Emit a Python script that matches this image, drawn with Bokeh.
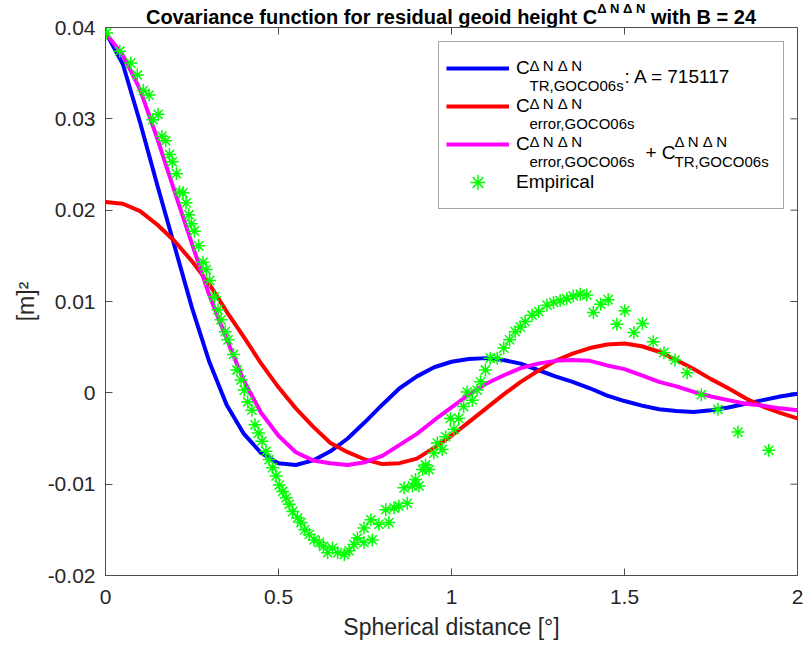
from bokeh.plotting import figure
from bokeh.layouts import column
from bokeh.models import Range1d, FixedTicker, Label, Legend, LegendItem, Div
from bokeh.embed import file_html
from bokeh.resources import INLINE

# ---------------- data ----------------
dist = [0.00, 0.05, 0.10, 0.15, 0.20, 0.25, 0.30, 0.35, 0.40, 0.45,
        0.50, 0.55, 0.60, 0.65, 0.70, 0.75, 0.80, 0.85, 0.90, 0.95,
        1.00, 1.05, 1.10, 1.15, 1.20, 1.25, 1.30, 1.35, 1.40, 1.45,
        1.50, 1.55, 1.60, 1.65, 1.70, 1.75, 1.80, 1.85, 1.90, 1.95, 2.00]

cov_tr = [0.0395, 0.0360, 0.0296, 0.0227, 0.0160, 0.0093, 0.0034, -0.0013, -0.0045, -0.0066,
          -0.0077, -0.0079, -0.0074, -0.0064, -0.0050, -0.0032, -0.0013, 0.0005, 0.0018, 0.0028,
          0.0034, 0.0037, 0.0038, 0.0036, 0.0032, 0.0025, 0.0018, 0.0012, 0.0005, -0.0003,
          -0.0009, -0.0014, -0.0018, -0.0020, -0.0021, -0.0019, -0.0016, -0.0012, -0.0008, -0.0004, -0.0001]

cov_err = [0.0209, 0.0207, 0.0199, 0.0184, 0.0166, 0.0144, 0.0119, 0.0089, 0.0061, 0.0032,
           0.0006, -0.0017, -0.0037, -0.0055, -0.0065, -0.0073, -0.0078, -0.0077, -0.0072, -0.0060,
           -0.0047, -0.0032, -0.0017, -0.0002, 0.0012, 0.0024, 0.0035, 0.0043, 0.0049, 0.0053,
           0.0054, 0.0051, 0.0045, 0.0036, 0.0026, 0.0015, 0.0005, -0.0006, -0.0015, -0.0022, -0.0028]

cov_sum = [0.0394, 0.0370, 0.0332, 0.0278, 0.0220, 0.0163, 0.0107, 0.0059, 0.0013, -0.0022,
           -0.0047, -0.0065, -0.0074, -0.0077, -0.0079, -0.0076, -0.0069, -0.0057, -0.0045, -0.0030,
           -0.0016, -0.0002, 0.0010, 0.0019, 0.0027, 0.0032, 0.0035, 0.0036, 0.0035, 0.0030,
           0.0026, 0.0019, 0.0012, 0.0007, 0.0001, -0.0004, -0.0008, -0.0012, -0.0014, -0.0017, -0.0019]

emp_dist = [0.003, 0.041, 0.073, 0.092, 0.109, 0.126, 0.137, 0.152, 0.163, 0.174,
            0.185, 0.193, 0.205, 0.214, 0.224, 0.233, 0.241, 0.248, 0.257, 0.269,
            0.282, 0.291, 0.301, 0.315, 0.325, 0.334, 0.346, 0.354, 0.370, 0.380,
            0.392, 0.401, 0.411, 0.423, 0.432, 0.442, 0.452, 0.464, 0.473, 0.483,
            0.493, 0.502, 0.512, 0.522, 0.531, 0.541, 0.555, 0.565, 0.576, 0.589,
            0.603, 0.618, 0.630, 0.642, 0.656, 0.671, 0.690, 0.704, 0.718, 0.728,
            0.747, 0.747, 0.767, 0.771, 0.790, 0.810, 0.819, 0.834, 0.848, 0.863,
            0.872, 0.887, 0.896, 0.906, 0.916, 0.925, 0.935, 0.949, 0.959, 0.973,
            0.983, 0.997, 1.007, 1.021, 1.035, 1.045, 1.060, 1.074, 1.084, 1.098,
            1.112, 1.132, 1.151, 1.168, 1.184, 1.199, 1.213, 1.233, 1.252, 1.276,
            1.295, 1.314, 1.333, 1.352, 1.372, 1.391, 1.410, 1.431, 1.453, 1.478,
            1.501, 1.527, 1.552, 1.583, 1.614, 1.646, 1.681, 1.722, 1.770, 1.828, 1.917]

emp_cov = [0.0394, 0.0374, 0.0361, 0.0348, 0.0331, 0.0326, 0.0299, 0.0305, 0.0281, 0.0276,
           0.0261, 0.0253, 0.0240, 0.0220, 0.0219, 0.0208, 0.0195, 0.0185, 0.0177, 0.0161,
           0.0143, 0.0135, 0.0123, 0.0105, 0.0091, 0.0080, 0.0067, 0.0058, 0.0042, 0.0025,
           0.0014, 0.0003, -0.0010, -0.0019, -0.0035, -0.0044, -0.0053, -0.0064, -0.0073, -0.0082,
           -0.0091, -0.0101, -0.0108, -0.0115, -0.0122, -0.0130, -0.0137, -0.0142, -0.0150, -0.0155,
           -0.0161, -0.0164, -0.0168, -0.0175, -0.0170, -0.0175, -0.0177, -0.0173, -0.0166, -0.0159,
           -0.0164, -0.0148, -0.0139, -0.0161, -0.0144, -0.0128, -0.0142, -0.0126, -0.0124, -0.0104,
           -0.0121, -0.0102, -0.0095, -0.0102, -0.0084, -0.0079, -0.0084, -0.0066, -0.0055, -0.0062,
           -0.0048, -0.0028, -0.0040, -0.0028, -0.0015, 0.0001, -0.0008, 0.0003, 0.0012, 0.0025,
           0.0038, 0.0038, 0.0049, 0.0058, 0.0067, 0.0072, 0.0078, 0.0085, 0.0089, 0.0096,
           0.0099, 0.0101, 0.0103, 0.0106, 0.0108, 0.0107, 0.0088, 0.0097, 0.0102, 0.0075,
           0.0090, 0.0066, 0.0076, 0.0056, 0.0044, 0.0036, 0.0022, -0.0002, -0.0018, -0.0043, -0.0063]

x_ticks = [0, 0.5, 1, 1.5, 2]
x_tick_labels = ["0", "0.5", "1", "1.5", "2"]
y_ticks = [-0.02, -0.01, 0, 0.01, 0.02, 0.03, 0.04]
y_tick_labels = ["-0.02", "-0.01", "0", "0.01", "0.02", "0.03", "0.04"]

# ---------------- layout ----------------
W, H = 804, 648
TITLE_H = 27                      # page rows above the plot frame
FL, FR, FT, FB = 105, 797, 27, 575  # frame edges in page pixels
X0, X1, Y0, Y1 = 0.0, 2.0, -0.02, 0.04
TICK = 7
FONT = "Liberation Sans"
SPINE = "#4d4d4d"
TXT = "#262626"


def px_x(px):
    return X0 + (px - FL) / (FR - FL) * (X1 - X0)


def px_y(py):
    return Y1 - (py - FT) / (FB - FT) * (Y1 - Y0)


title_html = (
    f'<div style="position:absolute;left:{(FL + FR) / 2}px;top:7px;transform:translateX(-50%);'
    f"white-space:nowrap;font-family:'{FONT}';font-weight:bold;font-size:20px;"
    'line-height:20px;color:#000">'
    'Covariance function for residual geoid height C'
    '<span style="position:relative;top:-11px;font-size:13px">Δ N Δ N</span>'
    ' with B = 24</div>'
)
title_div = Div(text=title_html, width=W, height=TITLE_H, margin=0,
                styles={"position": "relative"})

# the figure spans the whole page (so the 0.04 tick label is not cut); it is
# pulled up under the title strip, whose text shows through the clear border
p = figure(width=W, height=H, x_range=Range1d(X0, X1), y_range=Range1d(Y0, Y1),
           output_backend="svg", toolbar_location=None, title=None,
           min_border_left=FL, min_border_right=W - FR,
           min_border_top=FT, min_border_bottom=H - FB, margin=(-TITLE_H, 0, 0, 0))
p.background_fill_color = "white"
p.border_fill_alpha = 0.0
p.outline_line_color = SPINE
p.outline_line_width = 1
p.grid.visible = False

xa = p.xaxis[0]
xa.ticker = FixedTicker(ticks=x_ticks)
xa.major_label_overrides = {t: l for t, l in zip(x_ticks, x_tick_labels)}
xa.axis_label = "Spherical distance [°]"
ya = p.yaxis[0]
ya.ticker = FixedTicker(ticks=y_ticks)
ya.major_label_overrides = {t: l for t, l in zip(y_ticks, y_tick_labels)}
ya.axis_label = "[m]²"

for ax in (xa, ya):
    ax.axis_line_color = None
    ax.major_tick_line_color = SPINE
    ax.major_tick_in = TICK
    ax.major_tick_out = 0
    ax.minor_tick_line_color = None
    ax.major_label_text_font = FONT
    ax.major_label_text_font_size = "21px"
    ax.major_label_text_color = TXT
    ax.axis_label_text_font = FONT
    ax.axis_label_text_font_size = "23px"
    ax.axis_label_text_font_style = "normal"
    ax.axis_label_text_color = TXT
xa.major_label_standoff = 14
xa.axis_label_standoff = 7
ya.major_label_standoff = 10
ya.axis_label_standoff = 6

# inward ticks on the top and right edges of the box (same tick values)
tick_dy = TICK * (Y1 - Y0) / (FB - FT)
tick_dx = TICK * (X1 - X0) / (FR - FL)
p.segment(x0=x_ticks, y0=[Y1] * len(x_ticks), x1=x_ticks, y1=[Y1 - tick_dy] * len(x_ticks),
          line_color=SPINE, line_width=1)
p.segment(x0=[X1] * len(y_ticks), y0=y_ticks, x1=[X1 - tick_dx] * len(y_ticks), y1=y_ticks,
          line_color=SPINE, line_width=1)

# ---------------- series ----------------
r_tr = p.line(dist, cov_tr, line_color="#0000ff", line_width=4)
r_err = p.line(dist, cov_err, line_color="#ff0000", line_width=4)
r_sum = p.line(dist, cov_sum, line_color="#ff00ff", line_width=4)
r_emp = p.scatter(emp_dist, emp_cov, marker="asterisk", size=13,
                  line_color="#00ff00", line_width=1.5)

legend = Legend(items=[LegendItem(label="C", renderers=[r_tr]),
                       LegendItem(label="C", renderers=[r_err]),
                       LegendItem(label="C", renderers=[r_sum]),
                       LegendItem(label="Empirical", renderers=[r_emp])],
                location=(438 - FL, FB - 209), padding=7, spacing=0, margin=0,
                glyph_width=63, glyph_height=38, label_height=38, label_width=260,
                label_standoff=7, label_text_font=FONT, label_text_font_size="19px",
                label_text_color="black", border_line_color=SPINE, border_line_width=1,
                background_fill_color="white", background_fill_alpha=0.0)
p.add_layout(legend)


def lab(text, px, py, size):
    p.add_layout(Label(x=px_x(px), y=px_y(py), text=text, text_font=FONT,
                       text_font_size=f"{size}px", text_align="left",
                       text_baseline="alphabetic", text_color="black",
                       level="overlay"))


# legend rich labels (sub/superscripts after the legend's own "C")
r1, r2, r3 = 69, 107, 145
lab("Δ N Δ N", 529, r1 - 4, 15)
lab("TR,GOCO06s", 529, r1 + 16, 15)
lab(": A = 715117", 624, r1 + 7, 19)

lab("Δ N Δ N", 529, r2 - 4, 15)
lab("error,GOCO06s", 529, r2 + 16, 15)

lab("Δ N Δ N", 529, r3 - 4, 15)
lab("error,GOCO06s", 529, r3 + 16, 15)
lab("+ C", 645, r3 + 7, 19)
lab("Δ N Δ N", 674, r3 - 4, 15)
lab("TR,GOCO06s", 674, r3 + 16, 15)

layout = column(title_div, p, spacing=0)
open("out.html", "w").write(file_html(layout, INLINE))
